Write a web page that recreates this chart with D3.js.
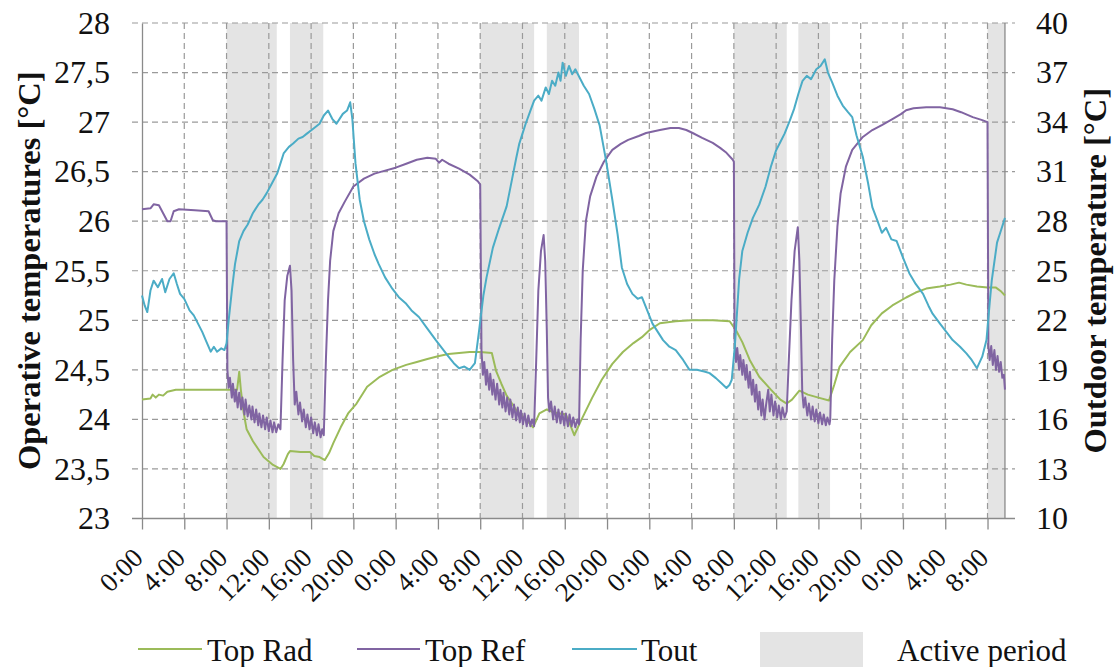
<!DOCTYPE html>
<html><head><meta charset="utf-8">
<script src="https://cdn.jsdelivr.net/npm/d3@7/dist/d3.min.js"></script>
<style>body{margin:0;background:#fff}</style>
</head><body>
<svg id="chart" width="1120" height="667"></svg>
<script>
// ---------------- data ----------------
const xTickHours = d3.range(0, 81, 4);
const xTickLabels = ["0:00","4:00","8:00","12:00","16:00","20:00","0:00","4:00","8:00","12:00","16:00","20:00","0:00","4:00","8:00","12:00","16:00","20:00","0:00","4:00","8:00"];
const leftTicks = [23,23.5,24,24.5,25,25.5,26,26.5,27,27.5,28];
const leftTickLabels = ["23","23,5","24","24,5","25","25,5","26","26,5","27","27,5","28"];
const rightTicks = [10,13,16,19,22,25,28,31,34,37,40];
const activePeriods = [[8,12.75],[14,17.15],[32,37.1],[38.3,41.35],[56,61],[62.1,65.1],[80,81.65]];
const dataEnd = 81.65;
const seriesNames = ["Top Rad","Top Ref","Tout"];
const bandName = "Active period";
const leftTitle = "Operative temperatures [°C]";
const rightTitle = "Outdoor temperature [°C]";

const topRad = [[0,24.2],[0.8,24.21],[1.0,24.25],[1.3,24.22],[1.6,24.25],[2.0,24.24],[2.4,24.28],[3.2,24.3],[5,24.3],[7,24.3],[8.1,24.3],[9.0,24.3],[9.2,24.48],[9.35,24.3],[9.6,24.08],[9.9,23.9],[10.5,23.78],[11.5,23.62],[12.4,23.54],[13.1,23.5],[13.4,23.55],[13.8,23.65],[14.0,23.68],[15.0,23.67],[15.9,23.67],[16.3,23.63],[16.8,23.62],[17.3,23.59],[17.7,23.66],[18.1,23.76],[18.8,23.92],[19.5,24.06],[20.3,24.16],[21.3,24.33],[22.5,24.43],[23.7,24.5],[25,24.55],[26,24.58],[27,24.61],[28.1,24.64],[29,24.66],[30,24.67],[31,24.68],[32,24.68],[33.1,24.67],[33.5,24.49],[34,24.36],[34.5,24.24],[35.5,24.08],[36.5,23.98],[37.0,23.92],[37.6,24.06],[38.3,24.1],[39,24.07],[40.1,24.05],[40.5,23.95],[40.9,23.84],[41.5,23.98],[42.6,24.22],[43.5,24.4],[44.5,24.56],[45.5,24.68],[46.5,24.77],[47.3,24.83],[48,24.9],[49,24.97],[50.5,24.99],[52,25.0],[54,25.0],[55.6,24.99],[56.2,24.9],[56.8,24.78],[57.5,24.6],[58.4,24.43],[59.5,24.3],[60.4,24.2],[61,24.16],[61.5,24.2],[62.2,24.29],[63,24.25],[64,24.22],[65,24.19],[65.5,24.35],[66,24.53],[67,24.68],[68.2,24.8],[69,24.95],[70,25.07],[71,25.15],[72.3,25.23],[73.2,25.28],[74.2,25.32],[75.5,25.34],[76.5,25.36],[77.3,25.38],[78,25.36],[79,25.34],[80,25.33],[80.8,25.33],[81.3,25.29],[81.65,25.25]];

const topRef = [[0,26.12],[0.8,26.13],[1.1,26.17],[1.6,26.16],[2.0,26.08],[2.4,26.0],[2.7,26.0],[3.0,26.1],[3.5,26.12],[5.0,26.11],[6.3,26.1],[6.7,26.01],[7.0,26.0],[8.0,26.0],
[8.08,24.5],[8.2,24.32],[8.32,24.42],[8.5,24.22],[8.6,24.36],[8.78,24.18],[8.9,24.3],[9.05,24.12],[9.2,24.27],[9.38,24.1],[9.5,24.22],[9.7,24.05],[9.8,24.2],[10.0,24.03],[10.15,24.14],[10.35,24.0],[10.45,24.13],[10.65,23.97],[10.8,24.1],[11.0,23.94],[11.1,24.06],[11.3,23.92],[11.45,24.04],[11.65,23.9],[11.8,24.02],[12.0,23.88],[12.15,23.99],[12.35,23.87],[12.5,23.97],[12.7,23.87],[12.9,23.95],[13.1,23.9],
[13.3,24.6],[13.5,25.2],[13.75,25.45],[14.0,25.55],[14.15,25.3],[14.3,24.6],[14.45,24.15],
[14.6,24.28],[14.8,24.05],[14.95,24.17],[15.15,23.98],[15.3,24.1],[15.5,23.92],[15.65,24.05],[15.85,23.9],[16.0,24.02],[16.2,23.86],[16.35,23.97],[16.55,23.84],[16.7,23.95],[16.9,23.82],[17.05,23.9],[17.2,23.84],
[17.4,24.6],[17.6,25.2],[17.8,25.6],[18.1,25.9],[18.6,26.08],[19.2,26.2],[20,26.35],[21,26.43],[22,26.48],[23,26.51],[24,26.54],[25,26.58],[26,26.62],[27,26.64],[27.8,26.63],[28.1,26.59],[28.4,26.62],[29,26.58],[30,26.53],[31,26.47],[31.8,26.4],[32.0,26.37],
[32.12,24.7],[32.25,24.45],[32.38,24.58],[32.55,24.35],[32.65,24.5],[32.85,24.3],[32.95,24.46],[33.15,24.25],[33.25,24.4],[33.45,24.2],[33.6,24.36],[33.8,24.15],[33.9,24.3],[34.1,24.12],[34.2,24.27],[34.4,24.08],[34.55,24.22],[34.75,24.05],[34.85,24.2],[35.05,24.02],[35.2,24.15],[35.4,23.99],[35.55,24.12],[35.75,23.97],[35.85,24.09],[36.05,23.95],[36.2,24.06],[36.4,23.93],[36.55,24.04],[36.75,23.93],[36.9,24.0],[37.1,23.93],
[37.3,24.6],[37.5,25.3],[37.75,25.7],[38.0,25.86],[38.15,25.6],[38.3,24.9],[38.42,24.22],
[38.55,24.08],[38.7,24.18],[38.9,24.0],[39.05,24.13],[39.25,23.97],[39.4,24.1],[39.6,23.96],[39.75,24.08],[39.95,23.94],[40.1,24.06],[40.3,23.93],[40.45,24.05],[40.65,23.93],[40.8,24.02],[41.0,23.92],[41.2,24.0],[41.35,23.95],
[41.5,24.8],[41.7,25.5],[42.0,26.0],[42.4,26.25],[43,26.45],[43.7,26.6],[44.5,26.72],[45.3,26.78],[46,26.82],[47,26.86],[47.7,26.89],[49,26.92],[50,26.94],[50.8,26.94],[51.5,26.92],[52.1,26.89],[53,26.84],[54,26.79],[54.7,26.74],[55.3,26.69],[55.9,26.62],[56.0,26.6],
[56.07,24.8],[56.2,24.58],[56.32,24.72],[56.5,24.5],[56.6,24.65],[56.8,24.45],[56.9,24.6],[57.1,24.4],[57.2,24.55],[57.4,24.32],[57.52,24.48],[57.7,24.25],[57.82,24.4],[58.0,24.18],[58.12,24.35],[58.3,24.1],[58.42,24.28],[58.6,24.04],[58.72,24.2],[58.9,24.0],[59.05,24.15],[59.25,24.3],[59.4,24.08],[59.55,24.25],[59.75,24.04],[59.9,24.18],[60.1,24.02],[60.25,24.14],[60.45,24.0],[60.6,24.12],[60.8,24.02],[61.0,24.08],
[61.2,24.6],[61.45,25.2],[61.75,25.7],[62.05,25.94],[62.2,25.6],[62.35,24.9],[62.47,24.28],
[62.6,24.12],[62.75,24.22],[62.95,24.04],[63.1,24.16],[63.3,24.0],[63.45,24.13],[63.65,23.98],[63.8,24.1],[64.0,23.96],[64.15,24.07],[64.35,23.95],[64.5,24.05],[64.7,23.94],[64.85,24.02],[65.05,23.95],[65.12,24.0],
[65.3,24.8],[65.5,25.4],[65.8,25.95],[66.1,26.28],[66.6,26.55],[67.2,26.72],[68.2,26.85],[69.1,26.92],[70,26.97],[71,27.03],[71.8,27.08],[72.3,27.12],[73,27.14],[74.2,27.15],[75.5,27.15],[76.7,27.13],[77.5,27.1],[78.6,27.05],[79.5,27.02],[80.0,27.0],
[80.08,24.75],[80.2,24.6],[80.35,24.74],[80.5,24.55],[80.65,24.7],[80.8,24.5],[80.95,24.64],[81.1,24.48],[81.25,24.58],[81.4,24.42],[81.55,24.45],[81.65,24.3]];

const tout = [[0,23.5],[0.25,22.9],[0.5,22.5],[0.8,23.8],[1.1,24.4],[1.5,24.0],[1.9,24.5],[2.2,23.7],[2.6,24.5],[3.0,24.85],[3.3,24.2],[3.6,23.6],[4.0,23.3],[4.5,22.6],[4.9,22.3],[5.3,21.8],[5.7,21.3],[6.1,20.7],[6.5,20.1],[6.8,20.4],[7.1,20.1],[7.5,20.3],[7.8,20.2],[8.0,20.6],[8.2,22.0],[8.5,23.8],[8.8,25.4],[9.2,26.8],[9.6,27.4],[10.0,27.8],[10.5,28.5],[11.0,29.0],[11.4,29.3],[11.8,29.7],[12.3,30.3],[12.8,30.9],[13.1,31.5],[13.4,32.1],[13.9,32.5],[14.3,32.7],[14.8,33.0],[15.2,33.1],[15.6,33.3],[16.2,33.6],[16.8,33.9],[17.2,34.4],[17.6,34.7],[18.0,34.2],[18.4,33.9],[19.0,34.5],[19.4,34.7],[19.7,35.2],[19.9,34.2],[20.2,31.5],[20.6,29.3],[21.0,28.0],[21.5,26.9],[22.0,26.0],[22.4,25.4],[23.0,24.6],[23.7,23.9],[24.3,23.4],[25.0,23.0],[25.5,22.6],[26.2,22.2],[27.0,21.5],[27.8,20.8],[28.4,20.3],[29.0,19.8],[29.5,19.4],[30.0,19.1],[30.5,19.2],[31.0,19.0],[31.5,19.4],[31.9,21.4],[32.3,23.5],[32.6,24.6],[33.2,26.4],[33.8,27.6],[34.5,28.9],[35.0,30.5],[35.4,31.8],[35.7,32.7],[36.0,33.3],[36.3,33.9],[36.7,34.6],[37.1,35.3],[37.5,35.6],[37.8,35.3],[38.2,36.1],[38.5,35.7],[38.8,36.5],[39.1,36.2],[39.4,37.0],[39.6,36.5],[39.8,37.6],[40.1,36.8],[40.4,37.4],[40.7,36.9],[41.0,37.2],[41.4,36.7],[41.8,36.2],[42.3,35.7],[42.8,34.8],[43.3,33.8],[43.9,31.7],[44.5,29.3],[45.0,27.2],[45.4,25.2],[45.9,24.2],[46.4,23.6],[46.9,23.3],[47.3,23.4],[47.8,22.6],[48.3,21.8],[48.8,21.3],[49.3,20.8],[49.9,20.4],[50.5,20.2],[51.2,19.6],[51.8,19.0],[52.5,19.0],[53.2,18.9],[53.7,18.8],[54.3,18.5],[54.8,18.2],[55.3,17.9],[55.6,18.1],[55.8,18.4],[56.1,20.5],[56.5,24.5],[56.8,26.2],[57.3,27.3],[57.8,28.2],[58.4,29.0],[59.0,30.1],[59.5,31.3],[60.0,32.3],[60.4,32.8],[60.8,33.3],[61.3,34.1],[61.7,34.8],[62.1,35.7],[62.5,36.5],[62.9,36.8],[63.3,36.6],[63.8,37.2],[64.2,37.4],[64.6,37.8],[64.9,37.0],[65.3,36.4],[65.8,35.6],[66.3,35.0],[66.8,34.6],[67.2,34.3],[67.6,33.2],[68.2,31.9],[68.7,30.3],[69.1,28.85],[69.6,28.0],[70.0,27.3],[70.4,27.6],[70.9,26.9],[71.4,26.8],[72.0,25.8],[72.6,24.85],[73.2,24.2],[73.9,23.6],[74.4,22.9],[74.8,22.4],[75.5,21.8],[76.1,21.3],[76.7,20.8],[77.4,20.4],[78.0,20.0],[78.5,19.6],[79.0,19.1],[79.5,19.8],[79.9,20.8],[80.2,23.0],[80.4,24.4],[80.9,26.7],[81.3,27.5],[81.65,28.2]];

// ---------------- drawing ----------------
const FONT = "'Liberation Serif', 'DejaVu Serif', 'Times New Roman', Times, serif";
const colors = {rad:"#9BBB59", ref:"#8064A2", out:"#4BACC6", band:"#e4e4e4", grid:"#9a9a9a", axis:"#8a8a8a"};
const svg = d3.select("#chart");
const L = 142, R = 1015, T = 23, B = 518.5;
const x = d3.scaleLinear().domain([0, 82.6]).range([L, R]);
const yL = d3.scaleLinear().domain([23, 28]).range([B, T]);
const yR = d3.scaleLinear().domain([10, 40]).range([B, T]);

function setFont(sel, size, weight) {
  sel.attr("font-family", FONT).style("font-family", FONT).attr("font-size", size)
     .attr("font-weight", weight || "normal").attr("fill", "#111");
}

// active period bands
svg.append("g").selectAll("rect").data(activePeriods).join("rect")
  .attr("x", d => x(d[0])).attr("width", d => x(d[1]) - x(d[0]))
  .attr("y", T).attr("height", B - T).attr("fill", colors.band);

// horizontal grid
svg.append("g").selectAll("line").data(leftTicks.filter(v => v > 23)).join("line")
  .attr("x1", L - 10).attr("x2", R).attr("y1", d => yL(d)).attr("y2", d => yL(d))
  .attr("stroke", colors.grid).attr("stroke-width", 1.2).attr("stroke-dasharray", "6,4");
// vertical grid
svg.append("g").selectAll("line").data(xTickHours.filter(h => h > 0)).join("line")
  .attr("x1", d => x(d)).attr("x2", d => x(d)).attr("y1", T).attr("y2", B)
  .attr("stroke", colors.grid).attr("stroke-width", 1.2).attr("stroke-dasharray", "6,4");

// end-of-data line
svg.append("line").attr("x1", x(dataEnd)).attr("x2", x(dataEnd)).attr("y1", T).attr("y2", B)
  .attr("stroke", colors.axis).attr("stroke-width", 1.3);

// x axis
const xAxis = svg.append("g").attr("transform", `translate(0,${B})`)
  .call(d3.axisBottom(x).tickValues(xTickHours).tickFormat((d, i) => xTickLabels[i]).tickSize(11).tickSizeOuter(0));
xAxis.attr("font-family", FONT);
xAxis.select(".domain").remove();
xAxis.selectAll(".tick line").attr("stroke", colors.axis).attr("stroke-width", 1.3);
const xt = xAxis.selectAll(".tick text");
setFont(xt, 27);
xt.attr("x", 2).attr("y", 41).attr("dy", 0).attr("text-anchor", "end").attr("transform", "rotate(-45 2 41)");
svg.append("line").attr("x1", L - 10).attr("x2", R).attr("y1", B).attr("y2", B)
  .attr("stroke", colors.axis).attr("stroke-width", 1.3);

// left axis
const yAxisL = svg.append("g").attr("transform", `translate(${L},0)`)
  .call(d3.axisLeft(yL).tickValues(leftTicks).tickFormat((d, i) => leftTickLabels[i]).tickSize(0).tickPadding(32));
yAxisL.attr("font-family", FONT);
yAxisL.select(".domain").attr("stroke", colors.axis).attr("stroke-width", 1.3);
setFont(yAxisL.selectAll(".tick text"), 32);

// right axis
const yAxisR = svg.append("g").attr("transform", `translate(${R},0)`)
  .call(d3.axisRight(yR).tickValues(rightTicks).tickFormat(d3.format("d")).tickSize(0).tickPadding(21));
yAxisR.attr("font-family", FONT);
yAxisR.select(".domain").remove();
setFont(yAxisR.selectAll(".tick text"), 32);

// axis titles
setFont(svg.append("text").attr("transform", `translate(40,${(T + B) / 2}) rotate(-90)`)
  .attr("text-anchor", "middle").text(leftTitle), 32.5, "bold");
setFont(svg.append("text").attr("transform", `translate(1106,${(T + B) / 2}) rotate(-90)`)
  .attr("text-anchor", "middle").text(rightTitle), 32.5, "bold");

// series lines
const lineL = d3.line().x(d => x(d[0])).y(d => yL(d[1]));
const lineR = d3.line().x(d => x(d[0])).y(d => yR(d[1]));
svg.append("path").datum(topRad).attr("d", lineL).attr("fill", "none").attr("stroke", colors.rad).attr("stroke-width", 2).attr("stroke-linejoin", "round");
svg.append("path").datum(topRef).attr("d", lineL).attr("fill", "none").attr("stroke", colors.ref).attr("stroke-width", 2).attr("stroke-linejoin", "round");
svg.append("path").datum(tout).attr("d", lineR).attr("fill", "none").attr("stroke", colors.out).attr("stroke-width", 2).attr("stroke-linejoin", "round");

// legend
const legendItems = [
  {name: seriesNames[0], color: colors.rad, x1: 138, x2: 202, tx: 207},
  {name: seriesNames[1], color: colors.ref, x1: 357, x2: 420, tx: 425},
  {name: seriesNames[2], color: colors.out, x1: 572, x2: 637, tx: 641}
];
const lg = svg.append("g");
legendItems.forEach(it => {
  lg.append("line").attr("x1", it.x1).attr("x2", it.x2).attr("y1", 649).attr("y2", 649)
    .attr("stroke", it.color).attr("stroke-width", 2.2);
  setFont(lg.append("text").attr("x", it.tx).attr("y", 661).text(it.name), 31);
});
lg.append("rect").attr("x", 760).attr("y", 632).attr("width", 103).attr("height", 40).attr("fill", colors.band);
setFont(lg.append("text").attr("x", 897).attr("y", 661).text(bandName), 31);
</script>
</body></html>
